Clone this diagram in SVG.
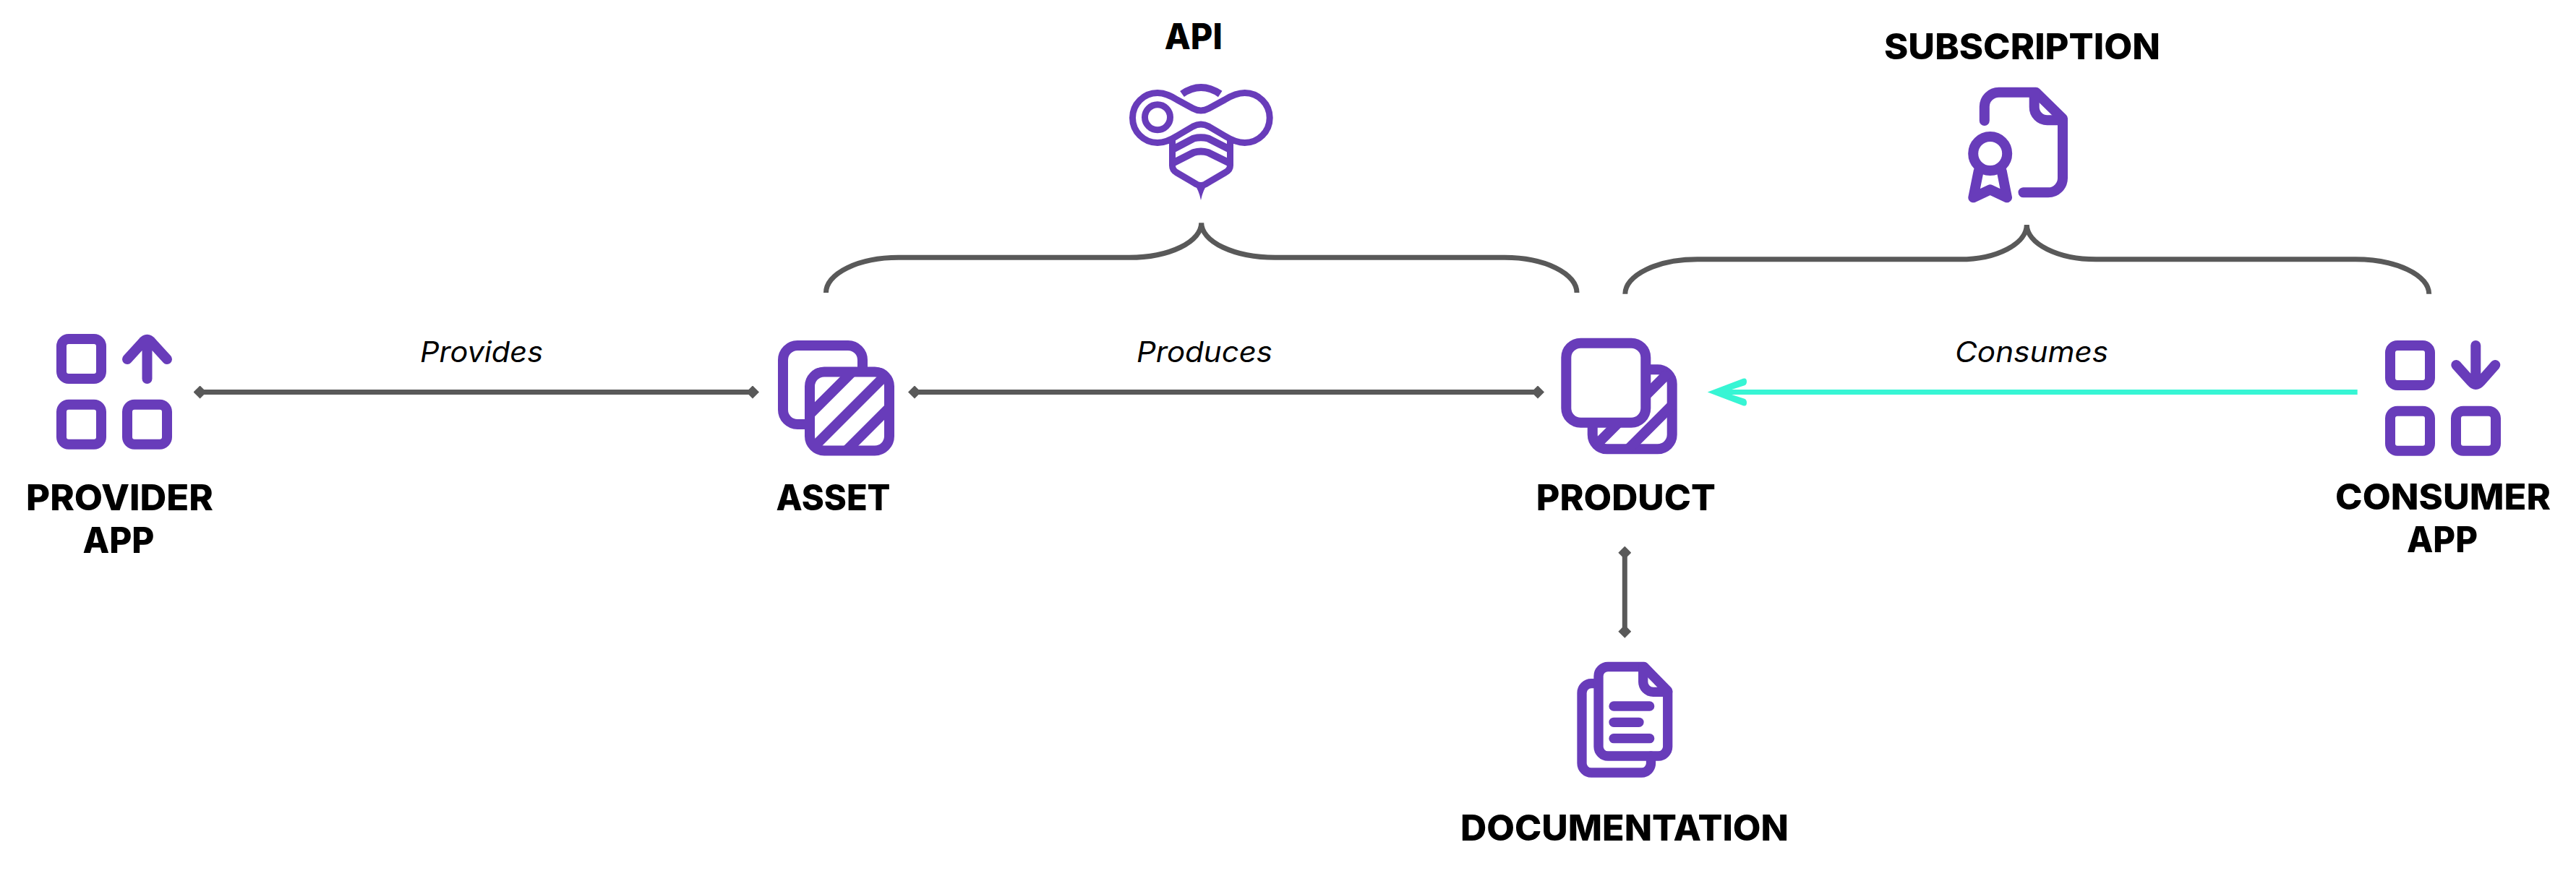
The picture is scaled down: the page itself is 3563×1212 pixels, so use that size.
<svg xmlns="http://www.w3.org/2000/svg" width="3563" height="1212" viewBox="0 0 3563 1212">
<style>
.t{font-family:Inter,"Liberation Sans",sans-serif;font-weight:800;font-size:49px;fill:#000;text-anchor:middle}
.l{font-family:Inter,"Liberation Sans",sans-serif;font-style:italic;font-weight:400;font-size:39px;fill:#000;text-anchor:middle}
.i{fill:none;stroke:#683cba;stroke-width:14;stroke-linecap:round;stroke-linejoin:round}
.w{fill:#fff}
.b{stroke-linecap:butt;stroke-linejoin:miter}
.c{fill:none;stroke:#595959;stroke-width:7}
.g{fill:none;stroke:#683cba;stroke-width:9;stroke-linejoin:round}
</style>
<defs>
<marker id="d" markerUnits="userSpaceOnUse" markerWidth="18" markerHeight="18" viewBox="0 0 18 18" refX="9" refY="9" orient="auto"><path d="M9 0L18 9L9 18L0 9Z" fill="#595959"/></marker>
<rect id="s" width="55" height="55" rx="10"/>
<g id="st"><path d="M1120 573.3L1178.8 514.5M1125 619L1225 519M1230 564L1170.5 623.5" class="b"/></g>
</defs>
<rect width="3563" height="1212" fill="#fff"/>
<g id="connectors">
<path class="c" marker-start="url(#d)" marker-end="url(#d)" d="M276.6 542.5H1041"/>
<path class="c" marker-start="url(#d)" marker-end="url(#d)" d="M1265 542.5H2127"/>
<path class="c" marker-start="url(#d)" marker-end="url(#d)" d="M2247.3 764.7V873.7"/>
<path d="M3260.7 542.5H2385" fill="none" stroke="#37f5d4" stroke-width="7"/>
<path d="M2361.7 542.5L2411 523.7Q2416 522.3 2416 528Q2416 532 2413 533.3L2386.7 541.7V543.3L2413 551.7Q2416 553 2416 557Q2416 562.7 2411 561.3Z" fill="#37f5d4"/>
<path class="c" d="M1142.5 405A100.5 48.7 0 0 1 1243 356.3H1562A99.7 48 0 0 0 1661.7 308.3A102 48 0 0 0 1764 356.3H2081A100 48.7 0 0 1 2181 405"/>
<path class="c" d="M2247.8 406.7A100 48 0 0 1 2348 358.8H2711A92.3 48 0 0 0 2803.3 311A96 48 0 0 0 2899.5 358.8H3258A101.7 48 0 0 1 3359.7 406.7"/>
</g>
<g id="provider-app">
<g class="i"><use href="#s" x="85" y="469"/><use href="#s" x="85" y="559.7"/><use href="#s" x="176" y="559.7"/>
<path d="M203.5 524V472M176 497L197 474Q203.5 465.5 210 474L231 497"/></g>
<text class="t" x="165.5" y="705.7" textLength="259" lengthAdjust="spacingAndGlyphs">PROVIDER</text>
<text class="t" x="164" y="765" textLength="99" lengthAdjust="spacingAndGlyphs">APP</text>
</g>
<g id="asset">
<g class="i"><rect x="1083" y="478" width="110" height="109" rx="20"/><rect class="w" x="1120" y="514.5" width="110" height="109" rx="20"/><use href="#st"/></g>
<text class="t" x="1152.5" y="705.7" textLength="158" lengthAdjust="spacingAndGlyphs">ASSET</text>
</g>
<g id="product">
<g class="i"><rect x="2202.7" y="511.3" width="110" height="110" rx="20"/><use href="#st" transform="translate(1082.7 -3.2)"/><rect class="w" x="2166.3" y="474.7" width="110" height="110" rx="20"/></g>
<text class="t" x="2248.8" y="705.7" textLength="248" lengthAdjust="spacingAndGlyphs">PRODUCT</text>
</g>
<g id="consumer-app">
<g class="i"><use href="#s" x="3306" y="478"/><use href="#s" x="3306" y="568.7"/><use href="#s" x="3397" y="568.7"/>
<path d="M3424.3 478V530M3397.3 505L3418 528Q3424.3 536 3431 528L3451.3 505"/></g>
<text class="t" x="3379" y="705" textLength="298" lengthAdjust="spacingAndGlyphs">CONSUMER</text>
<text class="t" x="3378" y="764" textLength="98" lengthAdjust="spacingAndGlyphs">APP</text>
</g>
<g id="api">
<text class="t" x="1650.8" y="68.3" textLength="80" lengthAdjust="spacingAndGlyphs">API</text>
<path class="g" d="M1601 128.5C1612 128.5 1620 133 1628 138L1650 150Q1661 156 1672 150L1694 138C1702 133 1711 128.5 1721.7 128.5A34.5 34.5 0 0 1 1721.7 197.5C1711 197.5 1702 193 1694 188L1672 175Q1661 169 1650 175L1628 188C1620 193 1612 197.5 1601 197.5A34.5 34.5 0 0 1 1601 128.5Z"/>
<circle class="g" cx="1601" cy="162.3" r="17.5"/>
<path class="g" d="M1635 130Q1661 112 1687.7 130" style="stroke-width:10"/>
<path class="g" d="M1621.5 192V229Q1621.5 235 1627 238.5L1655 255Q1661 258 1667 255L1695 238.5Q1701.5 235 1701.5 229V192"/>
<path class="g" d="M1621.5 207L1651 191.5Q1661 189 1671 191.5L1701.5 207M1621.5 226L1651 211Q1661 208 1671 211L1701.5 226" style="stroke-width:10"/>
<path d="M1652 256Q1658 262 1661 277Q1664 262 1670 256L1661 254Z" fill="#683cba"/>
</g>
<g id="subscription">
<text class="t" x="2797" y="82.3" textLength="382" lengthAdjust="spacingAndGlyphs">SUBSCRIPTION</text>
<g class="i"><path d="M2744.8 167V148A20 20 0 0 1 2765 127.7H2816L2853 164V246A20 20 0 0 1 2833 266.3H2798.5"/><path d="M2813.7 128V148A18 18 0 0 0 2832 166.3H2853"/>
<circle cx="2752.7" cy="212.5" r="23.5"/><path d="M2736.7 236.7L2729.3 273.3L2752.7 262.3L2776 273.3L2768.7 236.7"/></g>
</g>
<g id="documentation">
<g class="i" style="stroke-width:13.3"><path d="M2204 945.7H2201A13 13 0 0 0 2188 958.7V1056A13 13 0 0 0 2201 1069H2270.5A13 13 0 0 0 2283.5 1056V1046"/>
<path d="M2211 935.5A13 13 0 0 1 2224 922.5H2274L2306.7 956V1033A13 13 0 0 1 2293.7 1046H2224A13 13 0 0 1 2211 1033Z"/>
<path d="M2272.7 923V943A14 14 0 0 0 2286.7 957.3H2306.7M2232 977H2281.7M2232 999.3H2267M2232 1021.7H2281.7"/></g>
<text class="t" x="2247" y="1163.3" textLength="454" lengthAdjust="spacingAndGlyphs">DOCUMENTATION</text>
</g>
<g id="labels">
<text class="l" x="666" y="501" textLength="170" lengthAdjust="spacingAndGlyphs">Provides</text>
<text class="l" x="1666" y="501" textLength="188" lengthAdjust="spacingAndGlyphs">Produces</text>
<text class="l" x="2810" y="501" textLength="212" lengthAdjust="spacingAndGlyphs">Consumes</text>
</g>
</svg>
